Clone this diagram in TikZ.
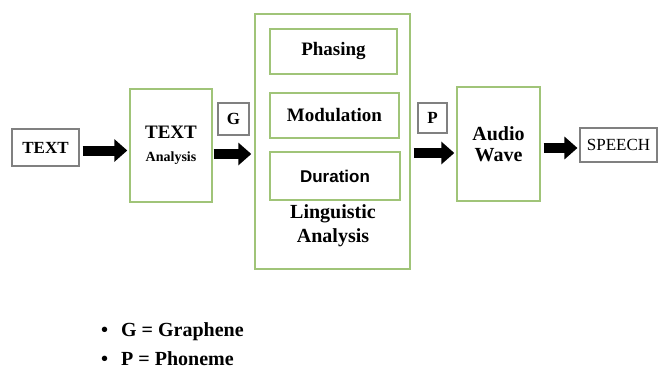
\documentclass[tikz,border=0pt]{standalone}
\usepackage{fontspec}
\setmainfont{Liberation Serif}
\newfontfamily\arialfont{Liberation Sans}
\usetikzlibrary{arrows.meta}

\definecolor{boxgreen}{RGB}{160,196,120}
\definecolor{boxgray}{RGB}{128,128,128}

\tikzset{
  greenbox/.style={draw=boxgreen, line width=1.4pt, inner sep=0pt, align=center},
  graybox/.style={draw=boxgray, line width=1.1pt, inner sep=0pt, align=center},
  blockarrow/.style={line width=10pt, -{Triangle[length=13pt,width=22pt]}}
}

\begin{document}
\begin{tikzpicture}[x=1pt, y=-1pt]
\useasboundingbox (0,0) rectangle (660,369);

% input and first stage
\node[graybox, minimum width=67pt, minimum height=37pt, font=\fontsize{17}{19}\selectfont\bfseries] (intext) at (45.5,147.5) {TEXT};
\node[greenbox, minimum width=82pt, minimum height=113pt, font=\fontsize{19}{22}\selectfont\bfseries] (txtan) at (171,145.5)
  {TEXT\\[1pt]\fontsize{14}{17}\selectfont Analysis};
\node[graybox, minimum width=31pt, minimum height=32pt, font=\fontsize{17}{19}\selectfont\bfseries] (gbox) at (233.5,119) {G};

% linguistic analysis block
\node[greenbox, minimum width=155pt, minimum height=255pt] (ling) at (332.5,141.5) {};
\node[greenbox, minimum width=127pt, minimum height=45pt, font=\fontsize{19}{22}\selectfont\bfseries] (phase) at (333.5,51.5) {Phasing};
\node[greenbox, minimum width=129pt, minimum height=45pt, font=\fontsize{19}{22}\selectfont\bfseries] (modu) at (334.5,115.5) {Modulation};
\node[greenbox, minimum width=130pt, minimum height=48pt, font=\fontsize{17}{20}\selectfont\arialfont\bfseries] (dur) at (335,176) {Duration};
\node[align=center, inner sep=0pt, font=\fontsize{20}{24}\selectfont\bfseries] (linglbl) at (333,226) {Linguistic\\Analysis};

% output side
\node[graybox, minimum width=29pt, minimum height=30pt, font=\fontsize{17}{19}\selectfont\bfseries] (pbox) at (432.5,118) {P};
\node[greenbox, minimum width=83pt, minimum height=114pt, font=\fontsize{20}{21}\selectfont\bfseries] (audio) at (498.5,144) {Audio\\Wave};
\node[graybox, minimum width=77pt, minimum height=34pt, font=\fontsize{17}{19}\selectfont] (speech) at (618.5,145) {SPEECH};

% arrows
\draw[blockarrow, shorten <=3pt, shorten >=2pt] ([yshift=-3pt]intext.east) -- ([yshift=-3pt]intext.east -| txtan.west);
\draw[blockarrow, shorten <=1pt, shorten >=3pt] ([yshift=-8.5pt]txtan.east) -- ([yshift=-8.5pt]txtan.east -| ling.west);
\draw[blockarrow, shorten <=3pt, shorten >=2pt] ([yshift=-11.5pt]ling.east) -- ([yshift=-11.5pt]ling.east -| audio.west);
\draw[blockarrow, shorten <=3pt, shorten >=2pt] ([yshift=-4pt]audio.east) -- ([yshift=-4pt]audio.east -| speech.west);

% legend
\node[anchor=west, inner sep=0pt, font=\fontsize{20}{22}\selectfont\bfseries] (leg1) at (101,332)
  {\makebox[20pt][l]{\textbullet}G = Graphene};
\node[anchor=west, inner sep=0pt, font=\fontsize{20}{22}\selectfont\bfseries] (leg2) at (101,359)
  {\makebox[20pt][l]{\textbullet}P = Phoneme};
\end{tikzpicture}
\end{document}
